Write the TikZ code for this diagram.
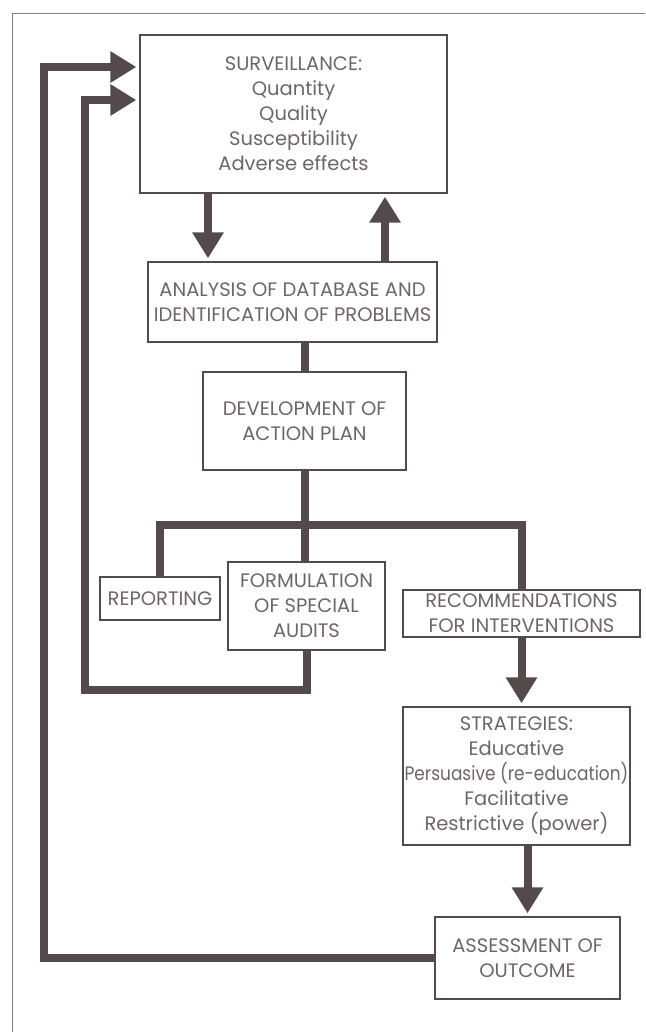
\documentclass[tikz,border=0pt]{standalone}
\usepackage{fontspec}
\usepackage{graphicx}
\setmainfont{Poppins}
\usetikzlibrary{arrows.meta}
\definecolor{ink}{RGB}{84,74,76}
\begin{document}
\begin{tikzpicture}[x=1pt, y=-1pt,
  box/.style={draw=ink, line width=1.4pt, align=center, inner sep=0pt,
    text=ink!85, font=\fontsize{19.5}{25}\selectfont},
  link/.style={draw=ink, line width=8pt},
  arr/.style={link, shorten >=3pt, -{Triangle[length=26pt,width=30pt]}}]
\useasboundingbox (0,0) rectangle (645,1032);
\draw[ink!70, line width=0.8pt] (645,13) -- (12,13) -- (12,1032);
% boxes
\node[box, minimum width=307pt, minimum height=158pt] (surv) at (293.5,114)
  {SURVEILLANCE:\\Quantity\\Quality\\Susceptibility\\Adverse effects};
\node[box, minimum width=289pt, minimum height=80pt] (ana) at (292.5,302)
  {ANALYSIS OF DATABASE AND\\IDENTIFICATION OF PROBLEMS};
\node[box, minimum width=203pt, minimum height=98pt] (dev) at (304.5,421)
  {DEVELOPMENT OF\\ACTION PLAN};
\node[box, minimum width=120pt, minimum height=43pt] (rep) at (160,598.5)
  {REPORTING};
\node[box, minimum width=157pt, minimum height=88pt] (form) at (306.5,606)
  {FORMULATION\\OF SPECIAL\\AUDITS};
\node[box, minimum width=237pt, minimum height=47pt] (rec) at (521.5,613.5)
  {RECOMMENDATIONS\\FOR INTERVENTIONS};
\node[box, minimum width=227pt, minimum height=138pt] (strat) at (516.5,776)
  {STRATEGIES:\\Educative\\\scalebox{0.87}[1]{Persuasive (re-education)}\\Facilitative\\Restrictive (power)};
\node[box, minimum width=185pt, minimum height=82pt] (assess) at (527.5,958)
  {ASSESSMENT OF\\OUTCOME};
% helper points
\coordinate (dn) at (208,0);
\coordinate (up) at (385,0);
\coordinate (bar) at (0,525);
\coordinate (inbot) at (85,690);
\coordinate (intop) at (85,100);
\coordinate (outtop) at (44,67);
% connectors
\draw[arr] (surv.south -| dn) -- (ana.north -| dn);
\draw[arr] (ana.north -| up) -- (surv.south -| up);
\draw[link] (dev.north |- ana.south) -- (dev.north);
\draw[link] (dev.south) -- (dev.south |- form.north);
\draw[link] (rep.north) -- (rep.north |- bar) -- (rec.north |- bar) -- (rec.north);
\draw[arr] (rec.south) -- (rec.south |- strat.north);
\draw[arr] (strat.south -| assess.north) -- (assess.north);
\draw[arr] (form.south) |- (inbot) -- (intop) -- (intop -| surv.west);
\draw[arr] (assess.west) -| (outtop) -- (outtop -| surv.west);
\end{tikzpicture}
\end{document}
